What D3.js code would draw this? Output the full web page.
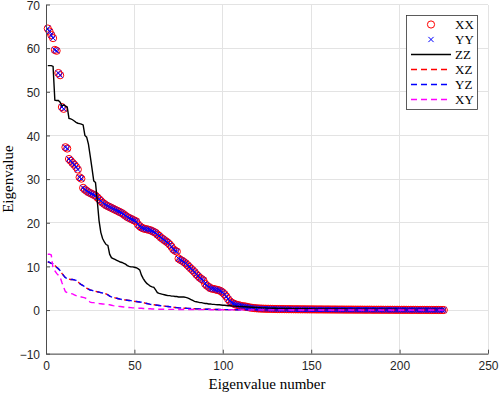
<!DOCTYPE html>
<html>
<head>
<meta charset="utf-8">
<script src="https://cdn.jsdelivr.net/npm/d3@7"></script>
<style>
  html, body { margin: 0; padding: 0; background: #fff; }
  svg { display: block; }
</style>
</head>
<body>
<svg id="chart" width="500" height="396"></svg>
<script>
// ---------- data ----------
const xTicks = [0, 50, 100, 150, 200, 250];
const yTicks = [-10, 0, 10, 20, 30, 40, 50, 60, 70];
const seriesNames = ["XX", "YY", "ZZ", "XZ", "YZ", "XY"];

const xxValues = [
  64.5,63.8,63.0,62.3,59.6,59.4,54.3,53.8,46.5,46.1,
  37.3,37.0,34.6,34.2,33.7,33.3,32.8,32.2,30.4,30.1,
  28.0,27.6,27.3,27.0,26.8,26.6,26.4,26.2,25.8,25.4,
  25.0,24.6,24.3,24.0,23.8,23.6,23.4,23.2,23.0,22.8,
  22.6,22.4,22.2,21.9,21.6,21.3,21.1,20.9,20.7,20.5,
  20.3,19.6,19.2,18.9,18.7,18.6,18.5,18.4,18.3,18.1,
  17.9,17.7,17.3,17.0,16.6,16.3,16.0,15.7,15.4,15.0,
  14.5,13.9,13.6,13.4,11.8,11.5,11.3,11.0,10.7,10.3,
  9.9,9.5,9.1,8.7,8.2,7.8,7.4,7.1,6.8,6.0,
  5.6,5.3,5.0,4.9,4.8,4.7,4.6,4.5,4.3,4.0,
  3.6,3.1,2.5,2.0,1.7,1.5,1.3,1.2,1.1,1.0,
  0.9,0.85,0.8,0.7,0.6,0.55,0.5,0.45,0.4,0.37,
  0.35,0.33,0.31,0.3,0.29,0.28,0.27,0.26,0.25,0.24,
  0.23,0.23,0.22,0.22,0.21,0.21,0.2,0.2,0.19,0.19,
  0.18,0.18,0.18,0.17,0.17,0.17,0.16,0.16,0.16,0.15,
  0.15,0.15,0.14,0.14,0.14,0.14,0.13,0.13,0.13,0.13,
  0.12,0.12,0.12,0.12,0.11,0.11,0.11,0.11,0.1,0.1,
  0.1,0.1,0.1,0.09,0.09,0.09,0.09,0.09,0.08,0.08,
  0.08,0.08,0.08,0.08,0.07,0.07,0.07,0.07,0.07,0.07,
  0.06,0.06,0.06,0.06,0.06,0.06,0.05,0.05,0.05,0.05,
  0.05,0.05,0.05,0.04,0.04,0.04,0.04,0.04,0.04,0.03,
  0.03,0.03,0.03,0.03,0.03,0.03,0.02,0.02,0.02,0.02,
  0.02,0.02,0.01,0.01,0.01
];

// YY eigenvalues
const yyValues = [
  64.5,63.8,63.0,62.3,59.6,59.4,54.3,53.8,46.5,46.1,
  37.3,37.0,34.6,34.2,33.7,33.3,32.8,32.2,30.4,30.1,
  28.0,27.6,27.3,27.0,26.8,26.6,26.4,26.2,25.8,25.4,
  25.0,24.6,24.3,24.0,23.8,23.6,23.4,23.2,23.0,22.8,
  22.6,22.4,22.2,21.9,21.6,21.3,21.1,20.9,20.7,20.5,
  20.3,19.6,19.2,18.9,18.7,18.6,18.5,18.4,18.3,18.1,
  17.9,17.7,17.3,17.0,16.6,16.3,16.0,15.7,15.4,15.0,
  14.5,13.9,13.6,13.4,11.8,11.5,11.3,11.0,10.7,10.3,
  9.9,9.5,9.1,8.7,8.2,7.8,7.4,7.1,6.8,6.0,
  5.6,5.3,5.0,4.9,4.8,4.7,4.6,4.5,4.3,4.0,
  3.6,3.1,2.5,2.0,1.7,1.5,1.3,1.2,1.1,1.0,
  0.9,0.85,0.8,0.7,0.6,0.55,0.5,0.45,0.4,0.37,
  0.35,0.33,0.31,0.3,0.29,0.28,0.27,0.26,0.25,0.24,
  0.23,0.23,0.22,0.22,0.21,0.21,0.2,0.2,0.19,0.19,
  0.18,0.18,0.18,0.17,0.17,0.17,0.16,0.16,0.16,0.15,
  0.15,0.15,0.14,0.14,0.14,0.14,0.13,0.13,0.13,0.13,
  0.12,0.12,0.12,0.12,0.11,0.11,0.11,0.11,0.1,0.1,
  0.1,0.1,0.1,0.09,0.09,0.09,0.09,0.09,0.08,0.08,
  0.08,0.08,0.08,0.08,0.07,0.07,0.07,0.07,0.07,0.07,
  0.06,0.06,0.06,0.06,0.06,0.06,0.05,0.05,0.05,0.05,
  0.05,0.05,0.05,0.04,0.04,0.04,0.04,0.04,0.04,0.03,
  0.03,0.03,0.03,0.03,0.03,0.03,0.02,0.02,0.02,0.02,
  0.02,0.02,0.01,0.01,0.01
];

const zzValues = [
  56.0,56.0,56.0,55.8,48.1,48.0,48.0,47.6,46.8,47.0,
  46.7,46.5,43.9,43.8,43.6,43.3,43.0,42.8,42.7,42.6,
  42.4,40.0,39.6,38.0,35.3,32.5,29.6,29.2,25.0,20.5,
  17.8,16.4,15.6,15.0,14.8,12.8,12.0,11.8,11.6,11.4,
  11.2,11.0,10.9,10.7,10.5,10.2,10.0,9.9,9.9,9.8,
  9.7,9.5,9.2,8.0,7.2,6.6,6.1,5.8,5.5,5.3,
  5.2,4.6,4.0,3.8,3.7,3.6,3.5,3.4,3.3,3.3,
  3.2,3.2,3.1,3.1,3.0,3.0,3.0,3.0,2.9,2.8,
  2.6,2.4,2.2,2.0,1.9,1.8,1.7,1.7,1.6,1.5,
  1.5,1.4,1.4,1.3,1.3,1.25,1.2,1.2,1.15,1.1,
  1.1,1.05,1.0,1.0,0.95,0.9,0.9,0.85,0.85,0.8,
  0.8,0.75,0.75,0.7,0.7,0.65,0.65,0.6,0.6,0.55,
  0.55,0.5,0.5,0.5,0.45,0.45,0.45,0.4,0.4,0.4,
  0.39,0.38,0.37,0.36,0.35,0.35,0.34,0.34,0.33,0.33,
  0.32,0.32,0.31,0.31,0.3,0.3,0.3,0.29,0.29,0.29,
  0.28,0.28,0.28,0.27,0.27,0.27,0.26,0.26,0.26,0.25,
  0.25,0.25,0.25,0.24,0.24,0.24,0.23,0.23,0.23,0.23,
  0.22,0.22,0.22,0.22,0.21,0.21,0.21,0.21,0.2,0.2,
  0.2,0.2,0.2,0.19,0.19,0.19,0.19,0.19,0.18,0.18,
  0.18,0.18,0.18,0.17,0.17,0.17,0.17,0.17,0.16,0.16,
  0.16,0.16,0.16,0.15,0.15,0.15,0.15,0.15,0.14,0.14,
  0.14,0.14,0.14,0.13,0.13,0.13,0.13,0.13,0.12,0.12,
  0.12,0.12,0.12,0.11,0.11
];

const xzValues = [
  11.0,10.9,10.7,10.5,10.2,9.8,9.4,9.0,8.4,7.9,
  7.4,7.2,7.1,7.0,7.0,6.9,6.8,6.5,6.1,5.8,
  5.6,5.3,5.0,4.8,4.6,4.5,4.4,4.3,4.2,4.1,
  4.0,3.9,3.8,3.7,3.5,3.2,3.0,2.9,2.8,2.7,
  2.6,2.5,2.4,2.35,2.3,2.25,2.2,2.15,2.1,2.0,
  1.95,1.9,1.85,1.8,1.7,1.6,1.5,1.4,1.3,1.25,
  1.2,1.15,1.1,1.05,1.0,0.95,0.9,0.85,0.8,0.75,
  0.7,0.65,0.6,0.55,0.5,0.48,0.45,0.42,0.4,0.38,
  0.36,0.34,0.32,0.3,0.28,0.26,0.25,0.24,0.22,0.2,
  0.19,0.18,0.17,0.16,0.15,0.14,0.13,0.12,0.11,0.1,
  0.1,0.1,0.09,0.09,0.09,0.08,0.08,0.08,0.08,0.07,
  0.07,0.07,0.07,0.07,0.06,0.06,0.06,0.06,0.06,0.06,
  0.05,0.05,0.05,0.05,0.05,0.05,0.05,0.05,0.05,0.05,
  0.05,0.05,0.05,0.05,0.05,0.04,0.04,0.04,0.04,0.04,
  0.04,0.04,0.04,0.04,0.04,0.04,0.04,0.04,0.04,0.04,
  0.04,0.04,0.04,0.03,0.03,0.03,0.03,0.03,0.03,0.03,
  0.03,0.03,0.03,0.03,0.03,0.03,0.03,0.03,0.03,0.03,
  0.03,0.03,0.03,0.03,0.03,0.02,0.02,0.02,0.02,0.02,
  0.02,0.02,0.02,0.02,0.02,0.02,0.02,0.02,0.02,0.02,
  0.02,0.02,0.02,0.02,0.02,0.02,0.02,0.02,0.02,0.02,
  0.02,0.02,0.02,0.02,0.02,0.01,0.01,0.01,0.01,0.01,
  0.01,0.01,0.01,0.01,0.01,0.01,0.01,0.01,0.01,0.01,
  0.01,0.01,0.01,0.01,0.01
];

const yzValues = [
  11.1,10.9,10.7,10.6,10.2,9.8,9.5,9.0,8.4,7.9,
  7.4,7.2,7.1,7.0,7.0,6.9,6.8,6.5,6.1,5.8,
  5.6,5.3,5.0,4.8,4.6,4.5,4.4,4.3,4.2,4.1,
  4.0,3.9,3.8,3.7,3.5,3.2,3.0,2.9,2.8,2.7,
  2.6,2.5,2.4,2.35,2.3,2.25,2.2,2.15,2.1,2.0,
  1.95,1.9,1.85,1.8,1.7,1.6,1.5,1.4,1.3,1.25,
  1.2,1.15,1.1,1.05,1.0,0.95,0.9,0.85,0.8,0.75,
  0.7,0.65,0.6,0.55,0.5,0.48,0.45,0.42,0.4,0.38,
  0.36,0.34,0.32,0.3,0.28,0.26,0.25,0.24,0.22,0.2,
  0.19,0.18,0.17,0.16,0.15,0.14,0.13,0.12,0.11,0.1,
  0.1,0.1,0.09,0.09,0.09,0.08,0.08,0.08,0.08,0.07,
  0.07,0.07,0.07,0.07,0.06,0.06,0.06,0.06,0.06,0.06,
  0.05,0.05,0.05,0.05,0.05,0.05,0.05,0.05,0.05,0.05,
  0.05,0.05,0.05,0.05,0.05,0.04,0.04,0.04,0.04,0.04,
  0.04,0.04,0.04,0.04,0.04,0.04,0.04,0.04,0.04,0.04,
  0.04,0.04,0.04,0.03,0.03,0.03,0.03,0.03,0.03,0.03,
  0.03,0.03,0.03,0.03,0.03,0.03,0.03,0.03,0.03,0.03,
  0.03,0.03,0.03,0.03,0.03,0.02,0.02,0.02,0.02,0.02,
  0.02,0.02,0.02,0.02,0.02,0.02,0.02,0.02,0.02,0.02,
  0.02,0.02,0.02,0.02,0.02,0.02,0.02,0.02,0.02,0.02,
  0.02,0.02,0.02,0.02,0.02,0.01,0.01,0.01,0.01,0.01,
  0.01,0.01,0.01,0.01,0.01,0.01,0.01,0.01,0.01,0.01,
  0.01,0.01,0.01,0.01,0.01
];

const xyValues = [
  12.8,12.8,12.6,9.5,9.0,8.4,8.0,7.5,6.3,5.2,
  4.2,4.0,3.9,3.8,3.7,3.5,3.3,3.2,3.1,3.0,
  2.9,2.8,2.6,2.2,1.8,1.7,1.7,1.6,1.6,1.5,
  1.45,1.4,1.35,1.3,1.25,1.2,1.1,1.0,0.95,0.9,
  0.85,0.8,0.75,0.7,0.65,0.6,0.6,0.55,0.5,0.5,
  0.45,0.45,0.4,0.4,0.35,0.35,0.3,0.3,0.3,0.25,
  0.25,0.25,0.2,0.2,0.2,0.2,0.18,0.18,0.16,0.16,
  0.15,0.15,0.14,0.14,0.14,0.13,0.13,0.13,0.12,0.12,
  0.12,0.11,0.11,0.11,0.1,0.1,0.1,0.1,0.09,0.09,
  0.09,0.09,0.08,0.08,0.08,0.08,0.07,0.07,0.07,0.07,
  0.07,0.06,0.06,0.06,0.06,0.06,0.06,0.05,0.05,0.05,
  0.05,0.05,0.05,0.05,0.04,0.04,0.04,0.04,0.04,0.04,
  0.04,0.04,0.04,0.04,0.03,0.03,0.03,0.03,0.03,0.03,
  0.03,0.03,0.03,0.03,0.03,0.03,0.03,0.02,0.02,0.02,
  0.02,0.02,0.02,0.02,0.02,0.02,0.02,0.02,0.02,0.02,
  0.02,0.02,0.02,0.02,0.02,0.02,0.02,0.02,0.02,0.01,
  0.01,0.01,0.01,0.01,0.01,0.01,0.01,0.01,0.01,0.01,
  0.01,0.01,0.01,0.01,0.01,0.01,0.01,0.01,0.01,0.01,
  0.01,0.01,0.01,0.01,0.01,0.01,0.01,0.01,0.01,0.01,
  0.01,0.01,0.01,0.01,0.01,0.01,0.01,0.01,0.01,0.01,
  0.01,0.01,0.01,0.01,0.01,0.01,0.01,0.01,0.01,0.01,
  0.01,0.01,0.01,0.01,0.01,0.01,0.01,0.01,0.01,0.01,
  0.01,0.01,0.01,0.01,0.01
];

// ---------- chart ----------
const svg = d3.select("#chart");
const mLeft = 46, mRight = 488, mTop = 4.5, mBottom = 353.7;
const x = d3.scaleLinear().domain([0, 250]).range([mLeft, mRight]);
const y = d3.scaleLinear().domain([-10, 70]).range([mBottom, mTop]);

const tickFont = "'Liberation Sans', Arial, Helvetica, sans-serif";
const serif = "'Liberation Serif', 'DejaVu Serif', serif";
const axisColor = "#4d4d4d";

// grid
const grid = svg.append("g");
grid.selectAll("line.gx").data(xTicks).enter().append("line")
  .attr("x1", d => x(d)).attr("x2", d => x(d))
  .attr("y1", mTop).attr("y2", mBottom)
  .attr("stroke", "#e3e3e3").attr("stroke-width", 1).attr("shape-rendering", "crispEdges");
grid.selectAll("line.gy").data(yTicks).enter().append("line")
  .attr("x1", mLeft).attr("x2", mRight)
  .attr("y1", d => y(d)).attr("y2", d => y(d))
  .attr("stroke", "#e3e3e3").attr("stroke-width", 1).attr("shape-rendering", "crispEdges");

// data
const idx = (arr) => arr.map((v, i) => [i + 1, v]);
const plot = svg.append("g");

plot.selectAll("circle.xx").data(idx(xxValues)).enter().append("circle")
  .attr("cx", d => x(d[0])).attr("cy", d => y(d[1])).attr("r", 3.6)
  .attr("fill", "none").attr("stroke", "#ff0000").attr("stroke-width", 1);

const xs = 2.6;
plot.selectAll("path.yy").data(idx(yyValues)).enter().append("path")
  .attr("d", d => {
    const cx = x(d[0]), cy = y(d[1]);
    return `M${cx - xs},${cy - xs}L${cx + xs},${cy + xs}M${cx - xs},${cy + xs}L${cx + xs},${cy - xs}`;
  })
  .attr("stroke", "#0000ff").attr("stroke-width", 1).attr("fill", "none");

const line = d3.line().x(d => x(d[0])).y(d => y(d[1]));
plot.append("path").datum(idx(zzValues)).attr("d", line)
  .attr("fill", "none").attr("stroke", "#000").attr("stroke-width", 1.4);
plot.append("path").datum(idx(xzValues)).attr("d", line)
  .attr("fill", "none").attr("stroke", "#ff0000").attr("stroke-width", 1.4)
  .attr("stroke-dasharray", "6,4").attr("stroke-dashoffset", 2);
plot.append("path").datum(idx(yzValues)).attr("d", line)
  .attr("fill", "none").attr("stroke", "#0000ff").attr("stroke-width", 1.4).attr("stroke-dasharray", "6,4");
plot.append("path").datum(idx(xyValues)).attr("d", line)
  .attr("fill", "none").attr("stroke", "#ff00ff").attr("stroke-width", 1.4).attr("stroke-dasharray", "6,4");

// axes
const xAxis = d3.axisBottom(x).tickValues(xTicks).tickSizeInner(-4).tickSizeOuter(0).tickPadding(8);
const yAxis = d3.axisLeft(y).tickValues(yTicks).tickSizeInner(-4).tickSizeOuter(0).tickPadding(6);
const gx = svg.append("g").attr("transform", `translate(0,${mBottom})`).call(xAxis);
const gy = svg.append("g").attr("transform", `translate(${mLeft},0)`).call(yAxis);
[gx, gy].forEach(g => {
  g.select(".domain").attr("stroke", axisColor).attr("stroke-width", 1);
  g.selectAll(".tick line").attr("stroke", axisColor).attr("stroke-width", 1);
  g.selectAll(".tick text").attr("fill", "#262626").style("font-family", tickFont).style("font-size", "12px");
});
gy.selectAll(".tick text").attr("dy", "0.4em");

// axis labels
svg.append("text").attr("x", (mLeft + mRight) / 2).attr("y", 389)
  .attr("text-anchor", "middle").style("font-family", serif).style("font-size", "15px")
  .attr("fill", "#000").text("Eigenvalue number");
svg.append("text").attr("transform", `translate(13,${(mTop + mBottom) / 2}) rotate(-90)`)
  .attr("text-anchor", "middle").style("font-family", serif).style("font-size", "15px")
  .attr("fill", "#000").text("Eigenvalue");

// legend
const lg = svg.append("g");
lg.append("rect").attr("x", 406.5).attr("y", 15.5).attr("width", 71).attr("height", 94)
  .attr("fill", "#fff").attr("stroke", "#333").attr("stroke-width", 0.8);
const rowY = d3.scalePoint().domain(seriesNames).range([24.5, 99.5]);
lg.append("circle").attr("cx", 431).attr("cy", rowY("XX")).attr("r", 3.6)
  .attr("fill", "none").attr("stroke", "#ff0000").attr("stroke-width", 1);
{
  const cx = 431, cy = rowY("YY");
  lg.append("path").attr("d", `M${cx - xs},${cy - xs}L${cx + xs},${cy + xs}M${cx - xs},${cy + xs}L${cx + xs},${cy - xs}`)
    .attr("stroke", "#0000ff").attr("stroke-width", 1);
}
const legLines = [["ZZ", "#000", null], ["XZ", "#ff0000", "6,4"], ["YZ", "#0000ff", "6,4"], ["XY", "#ff00ff", "6,4"]];
legLines.forEach(([n, c, dash]) => {
  const l = lg.append("line").attr("x1", 411).attr("x2", 451).attr("y1", rowY(n)).attr("y2", rowY(n))
    .attr("stroke", c).attr("stroke-width", 1.4);
  if (dash) l.attr("stroke-dasharray", dash);
});
lg.selectAll("text").data(seriesNames).enter().append("text")
  .attr("x", 455).attr("y", d => rowY(d)).attr("dy", "0.35em")
  .style("font-family", serif).style("font-size", "13px").attr("fill", "#000").text(d => d);
</script>
</body>
</html>
